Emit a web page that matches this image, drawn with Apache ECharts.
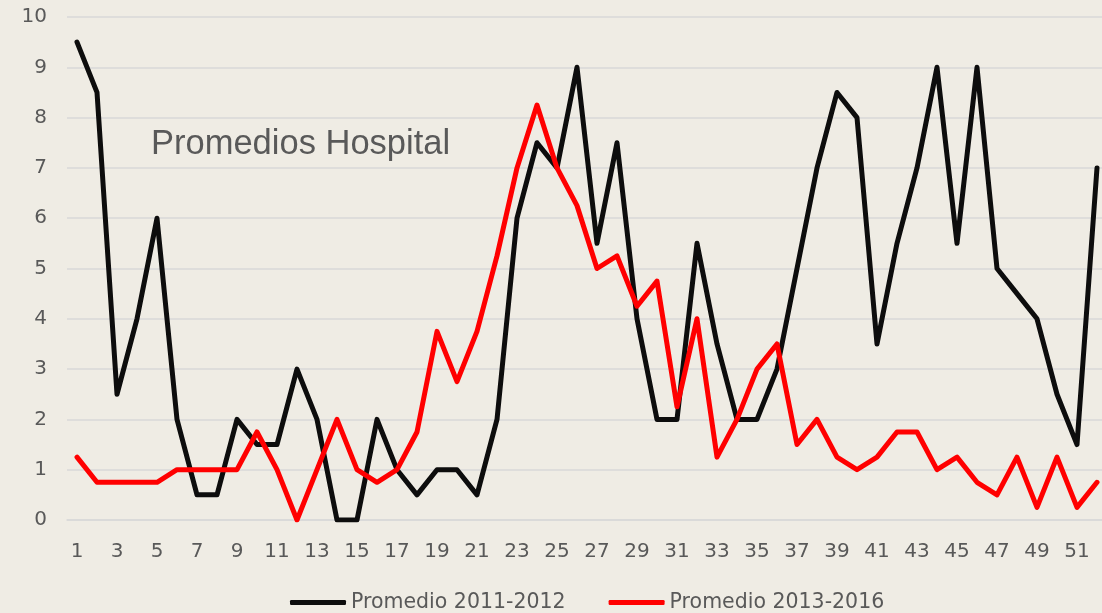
<!DOCTYPE html>
<html>
<head>
<meta charset="utf-8">
<script src="https://cdn.jsdelivr.net/npm/echarts@6/dist/echarts.min.js"></script>
<style>
  html, body { margin: 0; padding: 0; background: #efece4; overflow: hidden; }
  #chart { width: 1107px; height: 613px; }
</style>
</head>
<body>
<div id="chart"></div>
<script>
// semanas 1..52
var weeks = [];
for (var w = 1; w <= 52; w++) weeks.push(String(w));

var prom20112012 = [
  9.5, 8.5, 2.5, 4, 6, 2, 0.5, 0.5, 2, 1.5,
  1.5, 3, 2, 0, 0, 2, 1, 0.5, 1, 1,
  0.5, 2, 6, 7.5, 7, 9, 5.5, 7.5, 4, 2,
  2, 5.5, 3.5, 2, 2, 3, 5, 7, 8.5, 8,
  3.5, 5.5, 7, 9, 5.5, 9, 5, 4.5, 4, 2.5,
  1.5, 7
];

var prom20132016 = [
  1.25, 0.75, 0.75, 0.75, 0.75, 1, 1, 1, 1, 1.75,
  1, 0, 1, 2, 1, 0.75, 1, 1.75, 3.75, 2.75,
  3.75, 5.25, 7, 8.25, 7, 6.25, 5, 5.25, 4.25, 4.75,
  2.25, 4, 1.25, 2, 3, 3.5, 1.5, 2, 1.25, 1,
  1.25, 1.75, 1.75, 1, 1.25, 0.75, 0.5, 1.25, 0.25, 1.25,
  0.25, 0.75
];

var chart = echarts.init(document.getElementById("chart"));
var font = "DejaVu Sans, sans-serif";
var gray = "#595959";

var option = {
  backgroundColor: "#efece4",
  animation: false,
  title: {
    text: "Promedios Hospital",
    left: 146,
    top: 122,
    textStyle: { fontFamily: "Liberation Sans, Arial, sans-serif", fontSize: 34.5, fontWeight: "normal", color: gray }
  },
  legend: {
    top: 587,
    left: 285,
    icon: "roundRect",
    itemWidth: 56,
    itemHeight: 5,
    itemGap: 43,
    textStyle: { fontFamily: font, fontSize: 20.5, color: gray },
    data: ["Promedio 2011-2012", "Promedio 2013-2016"]
  },
  grid: { left: 67, top: 17, width: 1040, height: 503 },
  xAxis: {
    type: "category",
    data: weeks,
    boundaryGap: true,
    axisLine: { lineStyle: { color: "#d9d9d9", width: 1.5 } },
    axisTick: { show: false },
    axisLabel: { interval: 1, margin: 22, fontFamily: font, fontSize: 20, color: gray }
  },
  yAxis: {
    type: "value",
    min: 0,
    max: 10,
    interval: 1,
    axisLine: { show: false },
    axisTick: { show: false },
    axisLabel: { margin: 20, fontFamily: font, fontSize: 20, color: gray },
    splitLine: { lineStyle: { color: "#d9d9d9", width: 1.5 } }
  },
  series: [
    {
      name: "Promedio 2011-2012",
      type: "line",
      data: prom20112012,
      symbol: "none",
      color: "#0d0d0d",
      lineStyle: { width: 5, color: "#0d0d0d", cap: "round", join: "round" }
    },
    {
      name: "Promedio 2013-2016",
      type: "line",
      data: prom20132016,
      symbol: "none",
      color: "#ff0000",
      lineStyle: { width: 5, color: "#ff0000", cap: "round", join: "round" }
    }
  ]
};

chart.setOption(option);
</script>
</body>
</html>
